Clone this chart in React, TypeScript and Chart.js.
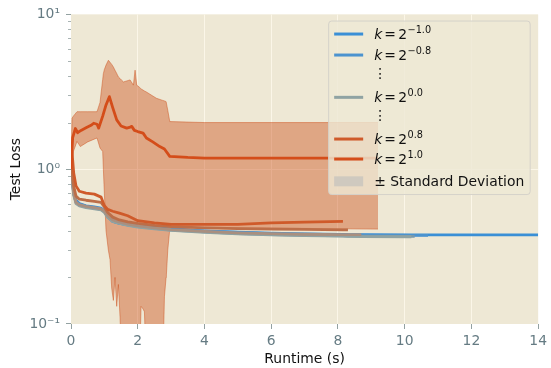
import React, { useEffect, useRef } from "react";
import { Chart, registerables } from "chart.js";

Chart.register(...registerables);

const FAMILY = "'DejaVu Sans', sans-serif";
const FS = 13.9;

// ---------- data ----------
const runtimeGrid = [0, 0.03, 0.08, 0.15, 0.25, 0.45, 0.7, 0.9, 1.0, 1.1, 1.25, 1.45, 1.7, 2.0, 2.5, 3.0, 4.0, 5.0, 6.0, 7.0, 8.15, 8.3, 8.7, 10.2, 10.3, 10.7, 14.0];

const lossKm10 = [1.25, 0.95, 0.72, 0.63, 0.6, 0.58, 0.57, 0.56, 0.54, 0.5, 0.465, 0.45, 0.44, 0.43, 0.42, 0.41, 0.4, 0.392, 0.386, 0.382, 0.379, 0.378, 0.377, 0.376, 0.376, 0.376, 0.376];
const lossKm08 = [1.2, 0.92, 0.7, 0.62, 0.595, 0.575, 0.565, 0.555, 0.535, 0.495, 0.46, 0.447, 0.437, 0.428, 0.418, 0.408, 0.398, 0.39, 0.384, 0.38, 0.377, 0.376, 0.375, 0.374, 0.374, 0.374];
const lossKm04 = [1.15, 0.9, 0.69, 0.61, 0.585, 0.57, 0.56, 0.55, 0.53, 0.49, 0.462, 0.448, 0.436, 0.425, 0.414, 0.404, 0.393, 0.384, 0.378, 0.374, 0.371, 0.37, 0.369, 0.368, 0.368];
const lossK00 = [1.1, 0.88, 0.68, 0.6, 0.58, 0.565, 0.555, 0.545, 0.525, 0.49, 0.46, 0.446, 0.434, 0.423, 0.412, 0.402, 0.391, 0.382, 0.376, 0.372, 0.369, 0.368, 0.367, 0.366];
const lossK04 = [1.1, 0.9, 0.7, 0.61, 0.59, 0.575, 0.565, 0.555, 0.535, 0.5, 0.47, 0.455, 0.442, 0.43, 0.418, 0.407, 0.396, 0.388, 0.383, 0.38, 0.378, 0.378, 0.378];
const lossK06 = [1.25, 1.0, 0.78, 0.67, 0.64, 0.63, 0.62, 0.61, 0.57, 0.525, 0.49, 0.47, 0.457, 0.446, 0.434, 0.426, 0.418, 0.413, 0.41, 0.408, 0.406, 0.405];
const lossK08 = [1.4, 1.3, 0.95, 0.78, 0.72, 0.7, 0.69, 0.66, 0.58, 0.55, 0.535, 0.52, 0.5, 0.465, 0.45, 0.44, 0.44, 0.44, 0.45, 0.455, 0.46];

const runtimeK10 = [0, 0.05, 0.13, 0.2, 0.3, 0.45, 0.6, 0.68, 0.78, 0.83, 0.95, 1.05, 1.15, 1.25, 1.37, 1.5, 1.67, 1.75, 1.82, 1.9, 2.0, 2.16, 2.26, 2.45, 2.66, 2.8, 2.96, 3.5, 4.0, 5.0, 6.0, 7.0, 8.0, 9.2];
const lossK10 = [1.0, 1.6, 1.83, 1.72, 1.78, 1.85, 1.92, 1.98, 1.95, 1.84, 2.2, 2.6, 2.94, 2.5, 2.08, 1.9, 1.84, 1.86, 1.89, 1.78, 1.75, 1.71, 1.59, 1.5, 1.4, 1.35, 1.21, 1.19, 1.18, 1.18, 1.18, 1.18, 1.18, 1.18];

const runtimeBand = [0, 0.03, 0.07, 0.18, 0.28, 0.5, 0.78, 0.87, 0.95, 0.97, 1.0, 1.05, 1.12, 1.17, 1.22, 1.27, 1.32, 1.37, 1.42, 1.47, 1.52, 1.57, 1.77, 1.87, 1.92, 1.97, 2.05, 2.1, 2.16, 2.2, 2.26, 2.56, 2.75, 2.8, 2.85, 2.86, 2.9, 2.96, 4.0, 9.2];
const stdUpperK10 = [1.1, 2.13, 2.2, 2.35, 2.35, 2.35, 2.35, 2.7, 3.8, 4.14, 4.4, 4.7, 5.05, 4.9, 4.75, 4.57, 4.35, 4.15, 3.94, 3.85, 3.75, 3.66, 3.77, 3.49, 4.36, 3.49, 3.38, 3.3, 3.24, 3.2, 3.15, 2.87, 2.78, 2.76, 2.73, 2.73, 2.4, 2.03, 2.0, 2.0];
const stdLowerK10 = [0.9, 1.1, 1.3, 1.51, 1.4, 1.5, 1.59, 1.37, 1.3, 1.0, 0.7, 0.4, 0.3, 0.26, 0.17, 0.142, 0.2, 0.13, 0.18, 0.11, 0.05, 0.05, 0.05, 0.05, 0.05, 0.05, 0.05, 0.13, 0.125, 0.12, 0.05, 0.05, 0.05, 0.15, 0.2, 0.21, 0.3, 0.41, 0.42, 0.41];

const xTickStep = 2;
const yMajorTicks = [0.1, 1, 10];
const yMajorLabels = ["10⁻¹", "10⁰", "10¹"];
const yMinorTicks = [0.2, 0.3, 0.4, 0.5, 0.6, 0.7, 0.8, 0.9, 2, 3, 4, 5, 6, 7, 8, 9];

const legendEntries = [
  { exp: "−1.0", color: "#3a8fd6" },
  { exp: "−0.8", color: "#4b93cf" },
  { dots: true },
  { exp: "0.0", color: "#8fa3a3" },
  { dots: true },
  { exp: "0.8", color: "#cf5a2a" },
  { exp: "1.0", color: "#d44d1a" },
  { std: true, label: "± Standard Deviation" },
];

// ---------- helpers ----------
const pts = (xs: number[], ys: number[]) => ys.map((y, i) => ({ x: xs[i], y }));

const lineDs = (label: string, xs: number[], ys: number[], color: string) => ({
  label,
  data: pts(xs, ys),
  borderColor: color,
  backgroundColor: color,
  borderWidth: 2.8,
  pointRadius: 0,
  fill: false,
  tension: 0,
  borderJoinStyle: "round" as const,
});

const isMajor = (v: number) => yMajorTicks.some((m) => Math.abs(m - v) < 1e-9);

const GRID = "#fbf6e8";
const TICKC = "#93a1a1";
const LABELC = "#657b83";

const bgPlugin = {
  id: "bgPlugin",
  beforeDraw(chart: any) {
    const { ctx, chartArea: a } = chart;
    ctx.save();
    ctx.fillStyle = "#eee8d5";
    ctx.fillRect(a.left, a.top, a.right - a.left, a.bottom - a.top);
    ctx.restore();
  },
  afterDraw(chart: any) {
    const { ctx, chartArea: a, scales } = chart;
    // minor y tick marks
    ctx.save();
    ctx.strokeStyle = TICKC;
    ctx.lineWidth = 0.8;
    for (const v of yMinorTicks) {
      const y = Math.round(scales.y.getPixelForValue(v)) + 0.5;
      ctx.beginPath();
      ctx.moveTo(a.left - 3, y);
      ctx.lineTo(a.left, y);
      ctx.stroke();
    }
    ctx.restore();

    // legend
    const bx = a.right - 209.5;
    const by = a.top + 6.7;
    const bw = 201.5;
    const bh = 173.5;
    ctx.save();
    ctx.beginPath();
    (ctx as any).roundRect(bx, by, bw, bh, 3);
    ctx.fillStyle = "rgba(238,232,213,0.8)";
    ctx.fill();
    ctx.strokeStyle = "#d5d2ca";
    ctx.lineWidth = 1;
    ctx.stroke();

    const rowOffsets = [13, 34, 53.5, 76.3, 95.5, 118, 138, 160.3];
    const lx0 = bx + 5.5;
    const lx1 = bx + 34.5;
    const tx = bx + 45.5;
    legendEntries.forEach((e: any, i) => {
      const cy = by + rowOffsets[i];
      ctx.fillStyle = "#111";
      if (e.dots) {
        ctx.font = `${FS}px ${FAMILY}`;
        ctx.textAlign = "center";
        ctx.textBaseline = "middle";
        ctx.fillText("⋮", tx + 6, cy);
        return;
      }
      if (e.std) {
        ctx.fillStyle = "#cfc9bf";
        ctx.fillRect(lx0, cy - 5, lx1 - lx0, 10);
        ctx.fillStyle = "#111";
        ctx.font = `${FS}px ${FAMILY}`;
        ctx.textAlign = "left";
        ctx.textBaseline = "alphabetic";
        ctx.fillText(e.label, tx, cy + 5);
        return;
      }
      ctx.strokeStyle = e.color;
      ctx.lineWidth = 3;
      ctx.beginPath();
      ctx.moveTo(lx0, cy);
      ctx.lineTo(lx1, cy);
      ctx.stroke();
      const base = cy + 5;
      ctx.textAlign = "left";
      ctx.textBaseline = "alphabetic";
      ctx.font = `italic ${FS}px ${FAMILY}`;
      ctx.fillText("k", tx, base);
      ctx.font = `${FS}px ${FAMILY}`;
      ctx.fillText("=", tx + 10, base);
      ctx.fillText("2", tx + 24, base);
      const w2 = ctx.measureText("2").width;
      ctx.font = `${FS * 0.7}px ${FAMILY}`;
      ctx.fillText(e.exp, tx + 24 + w2 + 0.5, base - 6.5);
    });
    ctx.restore();
  },
};

export default function App() {
  const ref = useRef<HTMLCanvasElement>(null);
  useEffect(() => {
    if (!ref.current) return;
    Chart.defaults.font.family = FAMILY;
    const chart = new Chart(ref.current, {
      type: "line",
      data: {
        datasets: [
          lineDs("k=2^1.0", runtimeK10, lossK10, "#d44d1a"),
          lineDs("k=2^0.8", runtimeGrid, lossK08, "#cf5a2a"),
          lineDs("k=2^0.6", runtimeGrid, lossK06, "#bc6e48"),
          lineDs("k=2^0.4", runtimeGrid, lossK04, "#a98f7f"),
          lineDs("k=2^0.0", runtimeGrid, lossK00, "#8fa3a3"),
          lineDs("k=2^-0.4", runtimeGrid, lossKm04, "#7899ad"),
          lineDs("k=2^-0.8", runtimeGrid, lossKm08, "#4b93cf"),
          lineDs("k=2^-1.0", runtimeGrid, lossKm10, "#3a8fd6"),
          {
            label: "std upper",
            data: pts(runtimeBand, stdUpperK10),
            borderColor: "rgba(203,75,22,0.45)",
            backgroundColor: "rgba(203,75,22,0.42)",
            borderWidth: 1,
            pointRadius: 0,
            tension: 0,
            fill: "+1",
          },
          {
            label: "std lower",
            data: pts(runtimeBand, stdLowerK10),
            borderColor: "rgba(203,75,22,0.45)",
            backgroundColor: "rgba(203,75,22,0.42)",
            borderWidth: 1,
            pointRadius: 0,
            tension: 0,
            fill: false,
          },
        ] as any,
      },
      options: {
        responsive: false,
        devicePixelRatio: 1,
        animation: false,
        events: [],
        layout: { padding: { left: 0, right: 6, top: 12, bottom: 0 } },
        plugins: {
          legend: { display: false },
          tooltip: { enabled: false },
          title: { display: false },
        },
        scales: {
          x: {
            type: "linear",
            min: 0,
            max: 14,
            border: { display: false },
            ticks: {
              stepSize: xTickStep,
              color: LABELC,
              font: { size: FS, family: FAMILY },
              padding: 4,
              maxRotation: 0,
            },
            grid: {
              color: (c: any) => (c.tick && (c.tick.value === 0 || c.tick.value === 14) ? "rgba(0,0,0,0)" : GRID),
              lineWidth: 1,
              tickColor: TICKC,
              tickLength: 5,
            },
            title: {
              display: true,
              text: "Runtime (s)",
              color: "#111",
              font: { size: FS, family: FAMILY },
              padding: { top: 0, bottom: 0 },
            },
            afterFit: (s: any) => {
              s.height = 44;
            },
          },
          y: {
            type: "logarithmic",
            min: 0.1,
            max: 10,
            border: { display: false },
            afterBuildTicks: (s: any) => {
              s.ticks = [...yMajorTicks, ...yMinorTicks].sort((a, b) => a - b).map((v) => ({ value: v, major: isMajor(v) }));
            },
            ticks: {
              autoSkip: false,
              color: LABELC,
              font: { size: FS, family: FAMILY },
              padding: 6,
              callback: (v: any) => {
                const i = yMajorTicks.findIndex((m) => Math.abs(m - Number(v)) < 1e-9);
                return i >= 0 ? yMajorLabels[i] : "";
              },
            },
            grid: {
              color: (c: any) => (c.tick && Math.abs(c.tick.value - 1) < 1e-9 ? GRID : "rgba(0,0,0,0)"),
              lineWidth: 1,
              tickColor: (c: any) => (c.tick && isMajor(c.tick.value) ? TICKC : "rgba(0,0,0,0)"),
              tickLength: 5,
            },
            title: {
              display: true,
              text: "Test Loss",
              color: "#111",
              font: { size: FS, family: FAMILY },
              padding: { top: 8, bottom: 0 },
            },
            afterFit: (s: any) => {
              s.width = 71;
            },
          },
        },
      } as any,
      plugins: [bgPlugin],
    });
    return () => chart.destroy();
  }, []);

  return (
    <div style={{ position: "absolute", left: 0, top: 0, width: 551, height: 368, background: "#fff" }}>
      <canvas ref={ref} width={551} height={368} style={{ display: "block", width: 551, height: 368 }} />
    </div>
  );
}
